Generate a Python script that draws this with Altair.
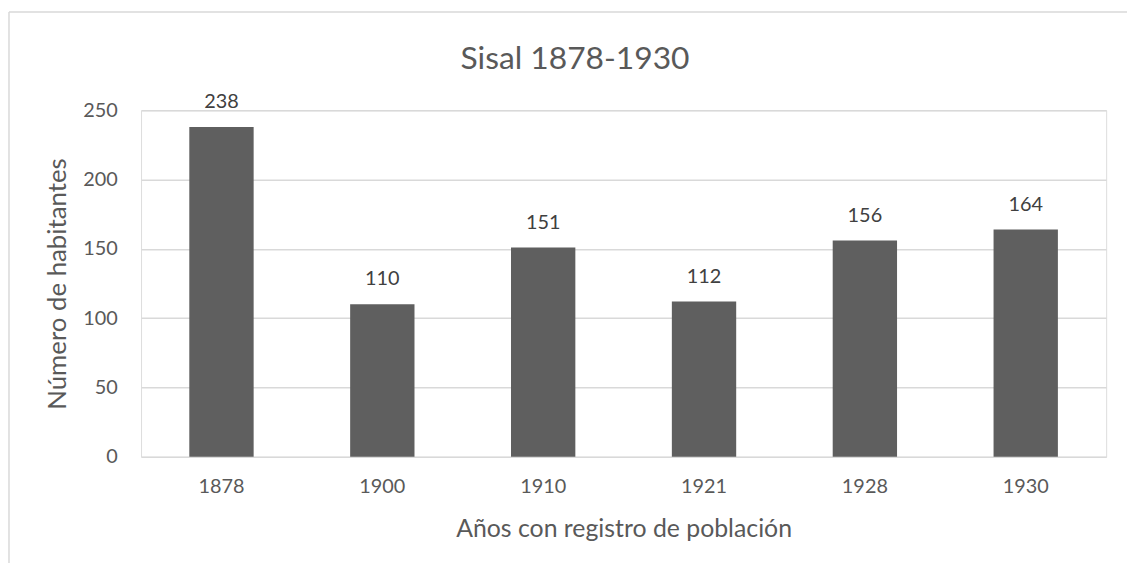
import altair as alt
import pandas as pd

years = ["1878", "1900", "1910", "1921", "1928", "1930"]
habitantes = [238, 110, 151, 112, 156, 164]
chart_title = "Sisal 1878-1930"

df = pd.DataFrame({"year": years, "value": habitantes})

FONT = "Lato"
GREY = "#595959"
FRAME = "#d9d9d9"

base = alt.Chart(df)

bars = base.mark_bar(color="#5f5f5f").encode(
    x=alt.X(
        "year:N",
        sort=years,
        scale=alt.Scale(paddingInner=0.6, paddingOuter=0.3),
        axis=alt.Axis(
            title="Años con registro de población",
            labelAngle=0,
            labelFontSize=20,
            labelColor=GREY,
            labelFont=FONT,
            labelPadding=20,
            ticks=False,
            domain=False,
            titleFontSize=25,
            titleFont=FONT,
            titleColor=GREY,
            titleFontWeight="normal",
            titlePadding=20,
            grid=False,
        ),
    ),
    y=alt.Y(
        "value:Q",
        scale=alt.Scale(domain=[0, 250], nice=False),
        axis=alt.Axis(
            title="Número de habitantes",
            values=[0, 50, 100, 150, 200, 250],
            labelFontSize=20,
            labelColor=GREY,
            labelFont=FONT,
            labelPadding=24,
            ticks=False,
            domain=False,
            grid=True,
            gridColor=FRAME,
            gridWidth=1.5,
            titleFontSize=26,
            titleFont=FONT,
            titleColor=GREY,
            titleFontWeight="normal",
            titlePadding=12,
        ),
    ),
)

labels = base.mark_text(
    dy=-19, baseline="alphabetic", fontSize=20, font=FONT, color="#404040"
).encode(
    x=alt.X("year:N", sort=years),
    y="value:Q",
    text="value:Q",
)

one = pd.DataFrame({"t": [chart_title]})

frame_top = alt.Chart(one).mark_rule(color=FRAME, strokeWidth=1.5, clip=False).encode(
    x=alt.value(-133),
    x2=alt.value(1200),
    y=alt.value(-99),
)
frame_left = alt.Chart(one).mark_rule(color=FRAME, strokeWidth=1.5, clip=False).encode(
    x=alt.value(-133),
    y=alt.value(-99),
    y2=alt.value(1000),
)

title = alt.Chart(one).mark_text(
    fontSize=32, font=FONT, color=GREY, baseline="alphabetic", align="center"
).encode(
    x=alt.value(437),
    y=alt.value(-42),
    text="t:N",
)

chart = (
    alt.layer(frame_top, frame_left, bars, labels, title)
    .properties(
        width=972,
        height=349,
        autosize=alt.AutoSizeParams(type="none"),
        padding={"left": 134, "top": 101, "right": 21, "bottom": 105},
    )
    .configure_view(stroke="transparent", strokeWidth=0, strokeOpacity=0)
    .configure(background="white")
)

chart.save("out.html", embed_options={"renderer": "svg", "actions": False})
